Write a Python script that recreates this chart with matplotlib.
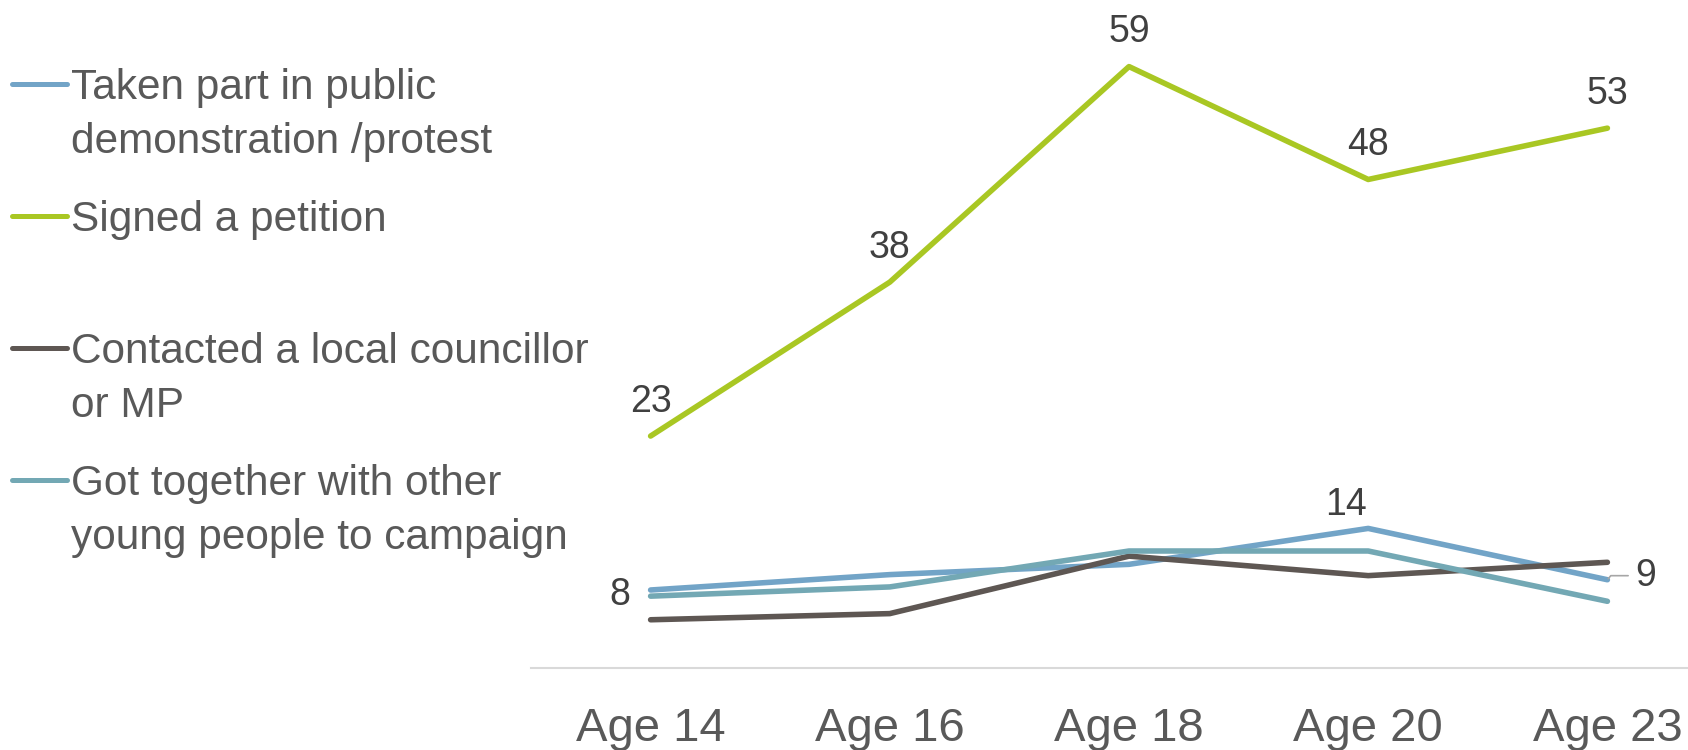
import matplotlib.pyplot as plt
from matplotlib.lines import Line2D

plt.rcParams['font.family'] = ['Liberation Sans', 'DejaVu Sans']

# Share of young people (%) who had done each activity, by age
ages = ['Age 14', 'Age 16', 'Age 18', 'Age 20', 'Age 23']
protest = [8, 9.5, 10.5, 14, 9]
petition = [23, 38, 59, 48, 53]
councillor = [5.1, 5.7, 11.3, 9.4, 10.7]
campaign = [7.4, 8.3, 11.8, 11.8, 6.9]

series_names = [['Taken part in public', 'demonstration /protest'],
                ['Signed a petition'],
                ['Contacted a local councillor', 'or MP'],
                ['Got together with other', 'young people to campaign']]
series_values = [protest, petition, councillor, campaign]
colors = ['#72A4C7', '#A9C723', '#5E5753', '#73A8B4']

text_grey = '#595959'
label_grey = '#404040'

fig = plt.figure(figsize=(16.88, 7.5), dpi=100)
ax = fig.add_axes([531 / 1688, 82 / 750, 1196 / 1688, 663 / 750])

x = list(range(len(ages)))
for vals, col in zip(series_values, colors):
    ax.plot(x, vals, color=col, lw=4.0, solid_capstyle='round', clip_on=False)

# value labels on the petition line
for xi, v in zip(x, petition):
    ax.annotate(f'{v:g}', (xi, v), xytext=(0, 27.5), textcoords='offset points',
                ha='center', va='center_baseline', fontsize=27, color=label_grey)

# a few labels on the protest line
ax.annotate(f'{protest[0]:g}', (0, protest[0]), xytext=(-22.3, -0.7),
            textcoords='offset points', ha='center', va='center_baseline',
            fontsize=27, color=label_grey)
ax.annotate(f'{protest[3]:g}', (3, protest[3]), xytext=(-15.8, 19.4),
            textcoords='offset points', ha='center', va='center_baseline',
            fontsize=27, color=label_grey)
ax.annotate(f'{protest[4]:g}', (4, protest[4]), xytext=(27.4, 5.8),
            textcoords='offset points', ha='center', va='center_baseline',
            fontsize=27, color=label_grey,
            arrowprops=dict(arrowstyle='-', color='#A6A6A6', lw=1.2,
                            shrinkA=3, shrinkB=1,
                            connectionstyle='angle,angleA=0,angleB=50,rad=0'))

ax.set_xlim(-0.5, 4.5)
ax.set_ylim(0.4, 65.0)
ax.set_xticks(x)
ax.set_xticklabels(ages, fontsize=34, color=text_grey)
ax.tick_params(axis='x', length=0, pad=28)
ax.set_yticks([])
for side in ['top', 'left', 'right']:
    ax.spines[side].set_visible(False)
ax.spines['bottom'].set_color('#D9D9D9')
ax.spines['bottom'].set_linewidth(1.5)
ax.set_facecolor('none')

# legend drawn by hand on the left
legend_y = [84, 216, 348, 480]
line_step = 54
for lines, col, my in zip(series_names, colors, legend_y):
    yf = 1 - my / 750
    fig.add_artist(Line2D([12 / 1688, 67 / 1688], [yf, yf], color=col, lw=3.6,
                          solid_capstyle='round', transform=fig.transFigure))
    for i, line in enumerate(lines):
        fig.text(71 / 1688, 1 - (my + 15 + i * line_step) / 750, line,
                 fontsize=30.5, color=text_grey, ha='left', va='baseline')

fig.savefig('out.png', dpi=100)
